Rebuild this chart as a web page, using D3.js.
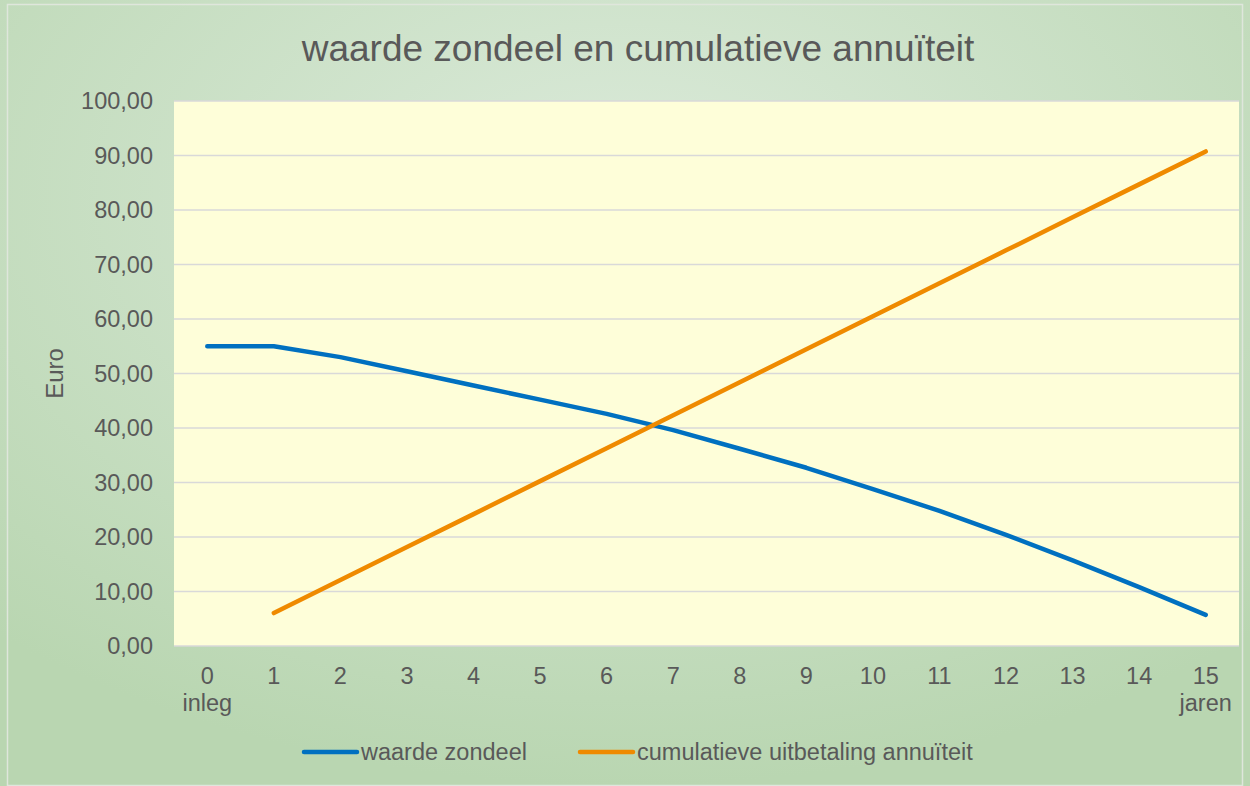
<!DOCTYPE html>
<html lang="nl">
<head>
<meta charset="UTF-8">
<title>waarde zondeel en cumulatieve annuïteit</title>
<script src="https://d3js.org/d3.v7.min.js"></script>
<style>
  body { margin: 0; background: #fff; }
  svg { display: block; font-family: "Liberation Sans", Arial, sans-serif; }
</style>
</head>
<body>
<svg width="1250" height="786"></svg>
<script>
// data
const years = ["0", "1", "2", "3", "4", "5", "6", "7", "8", "9", "10", "11", "12", "13", "14", "15"];
const subLabels = { "0": "inleg", "15": "jaren" };
const waardeZondeel = [55.0, 55.0, 53.0, 50.4, 47.8, 45.2, 42.6, 39.6, 36.2, 32.7, 28.8, 24.8, 20.4, 15.7, 10.8, 5.7];
const annuiteit = [null, 6.05, 12.10, 18.15, 24.20, 30.25, 36.30, 42.35, 48.40, 54.45, 60.50, 66.55, 72.60, 78.65, 84.70, 90.75];
const yTicks = [0, 10, 20, 30, 40, 50, 60, 70, 80, 90, 100];

const W = 1250, H = 786;
const m = { left: 174, right: 11, top: 101, bottom: 140 };
const FS = 23.5;

const svg = d3.select("svg");

// achtergrond
const defs = svg.append("defs");
const grad = defs.append("radialGradient")
  .attr("id", "bg").attr("cx", "50%").attr("cy", "25%").attr("r", "75%");
grad.append("stop").attr("offset", "0%").attr("stop-color", "#dbeada");
grad.append("stop").attr("offset", "100%").attr("stop-color", "#b9d6b1");
svg.append("rect").attr("width", W).attr("height", H).attr("fill", "url(#bg)");
svg.append("rect").attr("x", 7.5).attr("y", 4.5).attr("width", W - 15).attr("height", H - 5)
  .attr("fill", "none").attr("stroke", "#dfe6dc").attr("stroke-width", 1.5);

const x = d3.scaleBand().domain(years).range([m.left, W - m.right]);
const y = d3.scaleLinear().domain([0, 100]).range([H - m.bottom, m.top]);

// plotgebied
svg.append("rect")
  .attr("x", m.left).attr("y", m.top)
  .attr("width", W - m.right - m.left).attr("height", H - m.bottom - m.top)
  .attr("fill", "#fefed9");

// rasterlijnen
svg.append("g").selectAll("line").data(yTicks).join("line")
  .attr("x1", m.left).attr("x2", W - m.right)
  .attr("y1", d => y(d)).attr("y2", d => y(d))
  .attr("stroke", "#d9d9d9").attr("stroke-width", 1.5);

// y-as labels
const fmt = d => d.toFixed(2).replace(".", ",");
svg.append("g").selectAll("text").data(yTicks).join("text")
  .attr("x", m.left - 21).attr("y", d => y(d)).attr("dy", "0.35em")
  .attr("text-anchor", "end").attr("font-size", FS).attr("fill", "#595959")
  .text(fmt);

// x-as labels
const xl = svg.append("g").selectAll("text").data(years).join("text")
  .attr("x", d => x(d) + x.bandwidth() / 2).attr("y", H - m.bottom + 38)
  .attr("text-anchor", "middle").attr("font-size", FS).attr("fill", "#595959");
xl.append("tspan").text(d => d);
xl.filter(d => subLabels[d]).append("tspan")
  .attr("x", d => x(d) + x.bandwidth() / 2).attr("dy", 27)
  .text(d => subLabels[d]);

// as-titel
svg.append("text")
  .attr("transform", `translate(63,${(m.top + H - m.bottom) / 2}) rotate(-90)`)
  .attr("text-anchor", "middle").attr("font-size", 24).attr("fill", "#595959")
  .text("Euro");

// titel
svg.append("text")
  .attr("x", 638).attr("y", 61).attr("text-anchor", "middle")
  .attr("font-size", 37).attr("fill", "#595959")
  .text("waarde zondeel en cumulatieve annuïteit");

// lijnen
const line = d3.line()
  .defined(d => d[1] != null)
  .x(d => x(d[0]) + x.bandwidth() / 2)
  .y(d => y(d[1]));

const series = [
  { name: "waarde zondeel", color: "#0070c0", values: waardeZondeel },
  { name: "cumulatieve uitbetaling annuïteit", color: "#ef8a00", values: annuiteit }
];

series.forEach(s => {
  svg.append("path")
    .datum(years.map((yr, i) => [yr, s.values[i]]))
    .attr("d", line)
    .attr("fill", "none").attr("stroke", s.color)
    .attr("stroke-width", 4.5).attr("stroke-linecap", "round").attr("stroke-linejoin", "round");
});

// legenda
const legendX = [304, 580];
const lg = svg.append("g").selectAll("g").data(series).join("g")
  .attr("transform", (d, i) => `translate(${legendX[i]},752)`);
lg.append("line").attr("x1", 0).attr("x2", 53)
  .attr("stroke", d => d.color).attr("stroke-width", 4.5).attr("stroke-linecap", "round");
lg.append("text").attr("x", 57).attr("dy", "0.35em")
  .attr("font-size", FS).attr("fill", "#595959")
  .text(d => d.name);
</script>
</body>
</html>
